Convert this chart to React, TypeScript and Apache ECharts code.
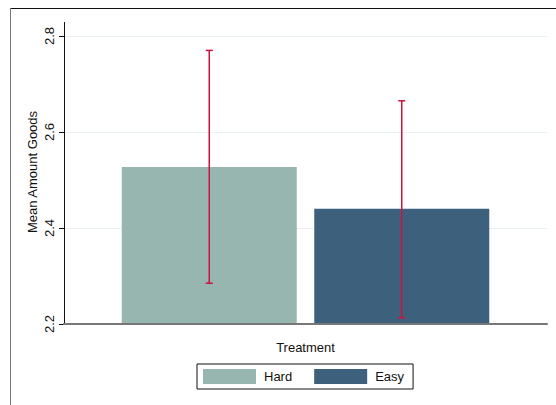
import React, { useEffect, useRef } from "react";
import * as echarts from "echarts";

const groups = ["Hard", "Easy"];
const means = [2.527, 2.44];
const lowerCI = [2.285, 2.213];
const upperCI = [2.77, 2.665];
const categories = ["Treatment"];
const colors = ["#98b6b0", "#3d617c"];
const yTitle = "Mean Amount Goods";

const FONT = "'Liberation Sans', Arial, Helvetica, sans-serif";
const BAR_WIDTH = 175;
const BAR_GAP_RATIO = 0.1;

export default function App() {
  const ref = useRef<HTMLDivElement>(null);
  useEffect(() => {
    document.body.style.margin = "0";
    const chart = echarts.init(ref.current!, null, { renderer: "svg" });
    const step = BAR_WIDTH * (1 + BAR_GAP_RATIO);
    const errData = groups.map((_, i) => [0, lowerCI[i], upperCI[i]]);
    chart.setOption({
      animation: false,
      backgroundColor: "#ffffff",
      textStyle: { fontFamily: FONT },
      grid: { left: 64, right: 9, top: 36, bottom: 81 },
      legend: {
        data: groups,
        left: 197,
        top: 364,
        orient: "horizontal",
        itemWidth: 53,
        itemHeight: 15,
        itemGap: 22,
        padding: [5, 9, 5, 6],
        borderColor: "#111",
        borderWidth: 1,
        borderRadius: 0,
        icon: "rect",
        textStyle: { fontFamily: FONT, fontSize: 13, color: "#111", padding: [0, 0, 0, 3] },
      },
      xAxis: {
        type: "category",
        data: categories,
        z: 5,
        name: "Treatment",
        nameLocation: "middle",
        nameGap: 17,
        nameTextStyle: { fontFamily: FONT, fontSize: 13, color: "#111" },
        axisLine: { show: true, lineStyle: { color: "#777", width: 2 } },
        axisTick: { show: false },
        axisLabel: { show: false },
        splitLine: { show: false },
      },
      yAxis: {
        type: "value",
        min: 2.2,
        max: 2.8,
        interval: 0.2,
        axisLine: { show: true, lineStyle: { color: "#111", width: 1 } },
        axisTick: { show: true, length: 5, lineStyle: { color: "#111" } },
        axisLabel: {
          rotate: 90,
          margin: 8,
          fontFamily: FONT,
          fontSize: 13,
          color: "#111",
          formatter: (v: number) => v.toFixed(1),
        },
        splitLine: { show: true, lineStyle: { color: "#eaf1f3", width: 1 } },
      },
      graphic: [
        { type: "line", shape: { x1: 10, y1: 8.5, x2: 556, y2: 8.5 }, style: { stroke: "#111", lineWidth: 1 } },
        { type: "line", shape: { x1: 10.5, y1: 8, x2: 10.5, y2: 405 }, style: { stroke: "#777", lineWidth: 1 } },
        { type: "line", shape: { x1: 64.5, y1: 22, x2: 64.5, y2: 36 }, style: { stroke: "#111", lineWidth: 1 } },
        {
          type: "text",
          x: 32,
          y: 172,
          rotation: Math.PI / 2,
          style: {
            text: yTitle,
            fontFamily: FONT,
            fontSize: 13,
            fill: "#111",
            align: "center",
            verticalAlign: "middle",
          },
        },
      ],
      series: [
        ...groups.map((g, i) => ({
          name: g,
          type: "bar",
          data: [means[i]],
          barWidth: BAR_WIDTH,
          barGap: `${BAR_GAP_RATIO * 100}%`,
          itemStyle: { color: colors[i] },
        })),
        {
          type: "custom",
          name: "CI",
          z: 4,
          data: errData,
          encode: { x: 0, y: [1, 2] },
          renderItem: (params: any, api: any) => {
            const idx = params.dataIndex;
            const offset = (idx - (groups.length - 1) / 2) * step;
            const lo = api.coord([api.value(0), api.value(1)]);
            const hi = api.coord([api.value(0), api.value(2)]);
            const x = lo[0] + offset;
            const cap = 3.5;
            const style = { stroke: "#d0103f", lineWidth: 1.5 };
            return {
              type: "group",
              children: [
                { type: "line", shape: { x1: x, y1: hi[1], x2: x, y2: lo[1] }, style },
                { type: "line", shape: { x1: x - cap, y1: hi[1], x2: x + cap, y2: hi[1] }, style },
                { type: "line", shape: { x1: x - cap, y1: lo[1], x2: x + cap, y2: lo[1] }, style },
              ],
            };
          },
        },
      ],
    });
    return () => chart.dispose();
  }, []);
  return <div ref={ref} style={{ width: 556, height: 405 }} />;
}
